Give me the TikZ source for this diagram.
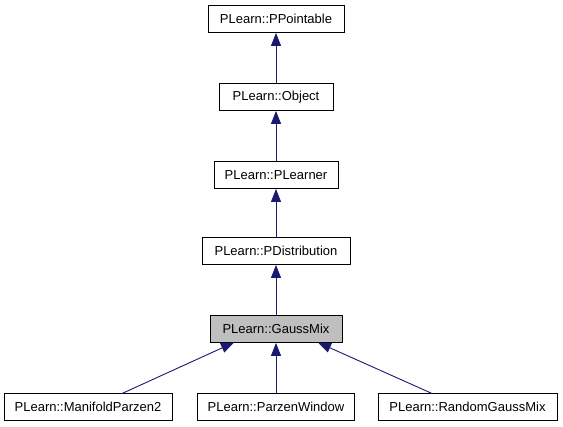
\documentclass[tikz,border=0pt]{standalone}
\usepackage{fontspec}
\setmainfont{Liberation Sans}
\usetikzlibrary{arrows.meta}
\definecolor{edgeblue}{HTML}{191970}
\tikzset{
  cls/.style={draw=black, line width=0.9pt, fill=white, minimum height=27pt, inner sep=0pt, font=\fontsize{13}{15}\selectfont},
  cur/.style={cls, fill=black!25},
  inh/.style={draw=edgeblue, line width=0.9pt, -{Triangle[width=10pt,length=13pt]}}
}
\begin{document}
\begin{tikzpicture}[x=1pt,y=1pt]
\useasboundingbox (0,0) rectangle (563,427);
\node[cls, minimum width=136pt] (pp) at (276,408) {PLearn::PPointable};
\node[cls, minimum width=114pt] (ob) at (276,330) {PLearn::Object};
\node[cls, minimum width=124pt] (pl) at (276,252) {PLearn::PLearner};
\node[cls, minimum width=148pt] (pd) at (276,176) {PLearn::PDistribution};
\node[cur, minimum width=132pt] (gm) at (276,98) {PLearn::GaussMix};
\node[cls, minimum width=168pt] (mp) at (88,20) {PLearn::ManifoldParzen2};
\node[cls, minimum width=157pt] (pw) at (276,20) {PLearn::ParzenWindow};
\node[cls, minimum width=179pt] (rg) at (467.5,20) {PLearn::RandomGaussMix};
\draw[inh] (ob.north) -- (pp.south);
\draw[inh] (pl.north) -- (ob.south);
\draw[inh] (pd.north) -- (pl.south);
\draw[inh] (gm.north) -- (pd.south);
\draw[inh] (pw.north) -- (gm.south);
\coordinate (mpt) at (122,33.5);
\coordinate (gml) at (234,84.5);
\draw[inh] (mpt) -- (gml);
\coordinate (rgt) at (432,33.5);
\coordinate (gmr) at (318,84.5);
\draw[inh] (rgt) -- (gmr);
\end{tikzpicture}
\end{document}
